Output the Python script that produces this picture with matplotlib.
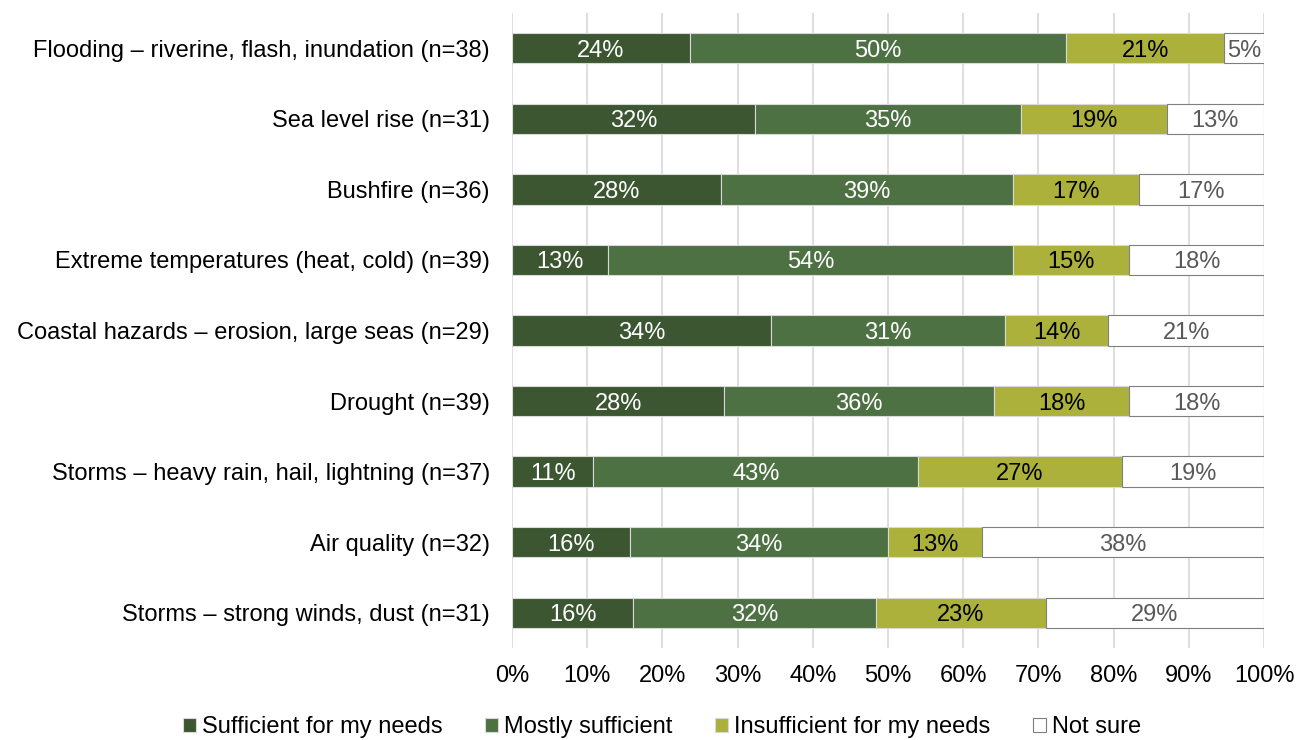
import matplotlib.pyplot as plt
import numpy as np

plt.rcParams['font.family'] = ['Liberation Sans', 'DejaVu Sans']

# categories, top to bottom
hazards = [
    "Flooding \u2013 riverine, flash, inundation (n=38)",
    "Sea level rise (n=31)",
    "Bushfire (n=36)",
    "Extreme temperatures (heat, cold) (n=39)",
    "Coastal hazards \u2013 erosion, large seas (n=29)",
    "Drought (n=39)",
    "Storms \u2013 heavy rain, hail, lightning (n=37)",
    "Air quality (n=32)",
    "Storms \u2013 strong winds, dust (n=31)",
]
series = ["Sufficient for my needs", "Mostly sufficient",
          "Insufficient for my needs", "Not sure"]

# percent of respondents
sufficient = [23.68, 32.26, 27.78, 12.82, 34.48, 28.21, 10.81, 15.63, 16.13]
mostly = [50.00, 35.48, 38.89, 53.85, 31.03, 35.90, 43.24, 34.38, 32.26]
insufficient = [21.05, 19.35, 16.67, 15.38, 13.79, 17.95, 27.03, 12.50, 22.58]
not_sure = [5.26, 12.90, 16.67, 17.95, 20.69, 17.95, 18.92, 37.50, 29.03]

colors = ["#3b5631", "#4e7144", "#abb13a", "#ffffff"]
text_colors = ["white", "white", "black", "#595959"]
fs = 17

fig = plt.figure(figsize=(12.96, 7.4), dpi=100)
ax = fig.add_axes([512/1296, 1 - 648/740, 752/1296, 635/740])

y = np.arange(len(hazards))
left = np.zeros(len(hazards))
for vals, name, c, tc in zip([sufficient, mostly, insufficient, not_sure],
                             series, colors, text_colors):
    vals = np.array(vals)
    ec = "#7f7f7f" if c == "#ffffff" else "#d9d9d9"
    ax.barh(y, vals, left=left, height=0.43, color=c, edgecolor=ec,
            linewidth=0.8, label=name, zorder=3)
    for yi, l, v in zip(y, left, vals):
        ax.text(l + v / 2, yi, "%d%%" % int(v + 0.5), ha="center",
                va="center_baseline", color=tc, fontsize=fs, zorder=4)
    left += vals

ax.set_xlim(0, 100)
ax.set_ylim(len(hazards) - 0.5, -0.5)
ax.set_yticks(y)
ax.set_yticklabels(hazards, fontsize=fs)
ax.set_xticks(np.arange(0, 101, 10))
ax.set_xticklabels(["%d%%" % t for t in range(0, 101, 10)], fontsize=fs)
ax.tick_params(length=0)
ax.tick_params(axis="x", pad=12)
ax.tick_params(axis="y", pad=16)
ax.grid(axis="x", color="#d9d9d9", linewidth=1.2, zorder=0)
for s in ax.spines.values():
    s.set_visible(False)

fig.legend(*ax.get_legend_handles_labels(), loc="center",
           bbox_to_anchor=(662/1296, 1 - 727/740), ncol=4, frameon=False,
           fontsize=fs, handlelength=0.55, handleheight=0.55,
           handletextpad=0.25, columnspacing=1.8)

fig.savefig("out.png")
